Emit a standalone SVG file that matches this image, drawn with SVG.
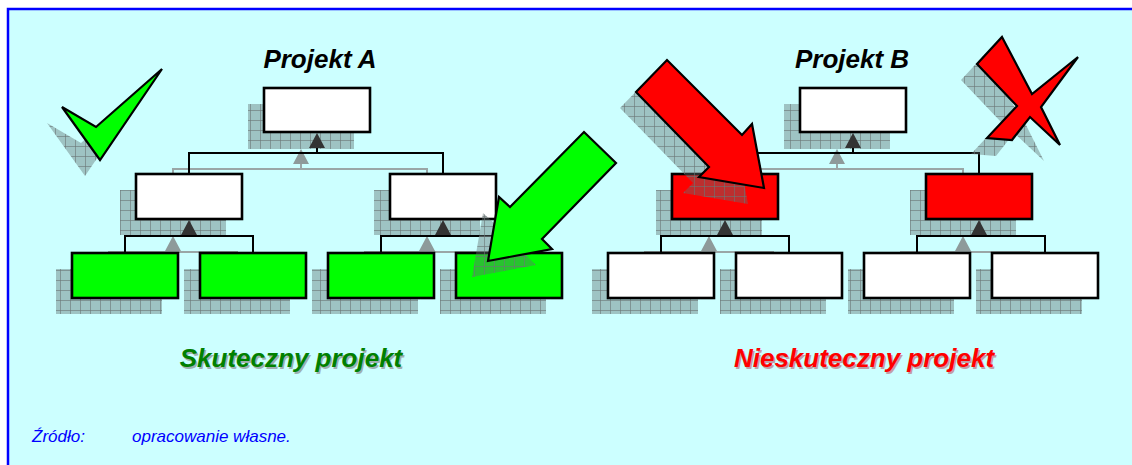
<svg xmlns="http://www.w3.org/2000/svg" width="1132" height="465" viewBox="0 0 1132 465">
<defs>
<pattern id="chk" width="10" height="10" patternUnits="userSpaceOnUse">
<rect width="10" height="10" fill="#5f7070" fill-opacity="0.42"/>
<path d="M0 0.5H10M0.5 0V10" stroke="#6a7474" stroke-opacity="0.6" stroke-width="1" fill="none"/>
</pattern>
<style>
.box{stroke:#000;stroke-width:2.6}
.w{fill:#fff}.g{fill:#00ff00}.r{fill:#ff0000}
.sh{fill:url(#chk)}
.ln{stroke:#000;stroke-width:2;fill:none}
.sln{stroke:#9aa6a6;stroke-width:2;fill:none}
.tri{fill:#333}
.stri{fill:#8e9a9a}
.ttl{font-family:"Liberation Sans",Arial,sans-serif;font-weight:bold;font-style:italic;font-size:26px;text-anchor:middle}
.src{font-family:"Liberation Sans",Arial,sans-serif;font-style:italic;font-size:17px;fill:#0000ff}
.sym{stroke:#000;stroke-width:2.2;stroke-linejoin:miter}
</style>
</defs>
<rect x="8" y="9" width="1200" height="500" fill="#ccffff" stroke="#0000ff" stroke-width="2.5"/>

<g id="shadows">
<rect class="sh" x="248" y="104" width="106" height="45"/>
<rect class="sh" x="120" y="190" width="106" height="45"/>
<rect class="sh" x="374" y="190" width="106" height="45"/>
<rect class="sh" x="56" y="269" width="106" height="45"/>
<rect class="sh" x="184" y="269" width="106" height="45"/>
<rect class="sh" x="312" y="269" width="106" height="45"/>
<rect class="sh" x="440" y="269" width="106" height="45"/>
<rect class="sh" x="784" y="104" width="106" height="45"/>
<rect class="sh" x="656" y="190" width="106" height="45"/>
<rect class="sh" x="910" y="190" width="106" height="45"/>
<rect class="sh" x="592" y="269" width="106" height="45"/>
<rect class="sh" x="720" y="269" width="106" height="45"/>
<rect class="sh" x="848" y="269" width="106" height="45"/>
<rect class="sh" x="976" y="269" width="106" height="45"/>
</g>

<g id="connectors">
<g transform="translate(-16,16)">
<path class="sln" d="M317 148V153M189 174V153H443V174M189 234V236M125 253V236H253V253M443 234V236M381 253V236H509V253"/>
<polygon class="stri" points="317,133 309,148 325,148"/>
<polygon class="stri" points="189,220 181,235 197,235"/>
<polygon class="stri" points="443,220 435,235 451,235"/>
</g>
<g transform="translate(520,16)">
<path class="sln" d="M317 148V153M189 174V153H443V174M189 234V236M125 253V236H253V253M443 234V236M381 253V236H509V253"/>
<polygon class="stri" points="317,133 309,148 325,148"/>
<polygon class="stri" points="189,220 181,235 197,235"/>
<polygon class="stri" points="443,220 435,235 451,235"/>
</g>
<g>
<path class="ln" d="M317 148V153M189 174V153H443V174M189 234V236M125 253V236H253V253M443 234V236M381 253V236H509V253"/>
<polygon class="tri" points="317,133 309,148 325,148"/>
<polygon class="tri" points="189,220 181,235 197,235"/>
<polygon class="tri" points="443,220 435,235 451,235"/>
</g>
<g transform="translate(536,0)">
<path class="ln" d="M317 148V153M189 174V153H443V174M189 234V236M125 253V236H253V253M443 234V236M381 253V236H509V253"/>
<polygon class="tri" points="317,133 309,148 325,148"/>
<polygon class="tri" points="189,220 181,235 197,235"/>
<polygon class="tri" points="443,220 435,235 451,235"/>
</g>
</g>

<g id="a-top"><rect class="box w" x="264" y="88" width="106" height="44"/></g>
<g id="a-l2-left"><rect class="box w" x="136" y="174" width="106" height="45"/></g>
<g id="a-l2-right"><rect class="box w" x="390" y="174" width="106" height="45"/></g>
<g id="a-l3-1"><rect class="box g" x="72" y="253" width="106" height="45"/></g>
<g id="a-l3-2"><rect class="box g" x="200" y="253" width="106" height="45"/></g>
<g id="a-l3-3"><rect class="box g" x="328" y="253" width="106" height="45"/></g>
<g id="a-l3-4"><rect class="box g" x="456" y="253" width="106" height="45"/></g>

<g id="b-top"><rect class="box w" x="800" y="88" width="106" height="44"/></g>
<g id="b-l2-left"><rect class="box r" x="672" y="174" width="106" height="45"/></g>
<g id="b-l2-right"><rect class="box r" x="926" y="174" width="106" height="45"/></g>
<g id="b-l3-1"><rect class="box w" x="608" y="253" width="106" height="45"/></g>
<g id="b-l3-2"><rect class="box w" x="736" y="253" width="106" height="45"/></g>
<g id="b-l3-3"><rect class="box w" x="864" y="253" width="106" height="45"/></g>
<g id="b-l3-4"><rect class="box w" x="992" y="253" width="106" height="45"/></g>

<g id="checkmark">
<polygon class="sh" transform="translate(-15,16)" points="62,107 96,127 162,69 100,160"/>
<polygon class="sym" fill="#00ff00" points="62,107 96,127 162,69 100,160"/>
</g>

<g id="cross">
<polygon class="sh" transform="translate(-16,16)" points="1002,37 1032,94 1078,57 1041,107 1060,145 1030,117 1012,140 987,138 1017,106 977,64"/>
<polygon class="sym" fill="#ff0000" points="1002,37 1032,94 1078,57 1041,107 1060,145 1030,117 1012,140 987,138 1017,106 977,64"/>
</g>

<g id="green-arrow">
<polygon class="sh" transform="translate(-16,16)" points="488,261 499,197 510,207 584,132 616,163 542,239 552,249"/>
<polygon class="sym" fill="#00ff00" points="488,261 499,197 510,207 584,132 616,163 542,239 552,249"/>
</g>

<g id="red-arrow">
<polygon class="sh" transform="translate(-16,16)" points="764,188 752,124 742,135 667,60 636,92 709,167 699,177"/>
<polygon class="sym" fill="#ff0000" points="764,188 752,124 742,135 667,60 636,92 709,167 699,177"/>
</g>

<g id="titles">
<text class="ttl" x="320" y="68" fill="#000">Projekt A</text>
<text class="ttl" x="852" y="68" fill="#000">Projekt B</text>
<text class="ttl" x="292.5" y="368.5" fill="#9fb0b0">Skuteczny projekt</text>
<text class="ttl" x="291" y="367" fill="#008000">Skuteczny projekt</text>
<text class="ttl" x="865.5" y="368.5" fill="#c0a0a8">Nieskuteczny projekt</text>
<text class="ttl" x="864" y="367" fill="#ff0000">Nieskuteczny projekt</text>
</g>

<g id="source">
<text class="src" x="32" y="442">Źródło:</text>
<text class="src" x="132" y="442">opracowanie własne.</text>
</g>
</svg>
